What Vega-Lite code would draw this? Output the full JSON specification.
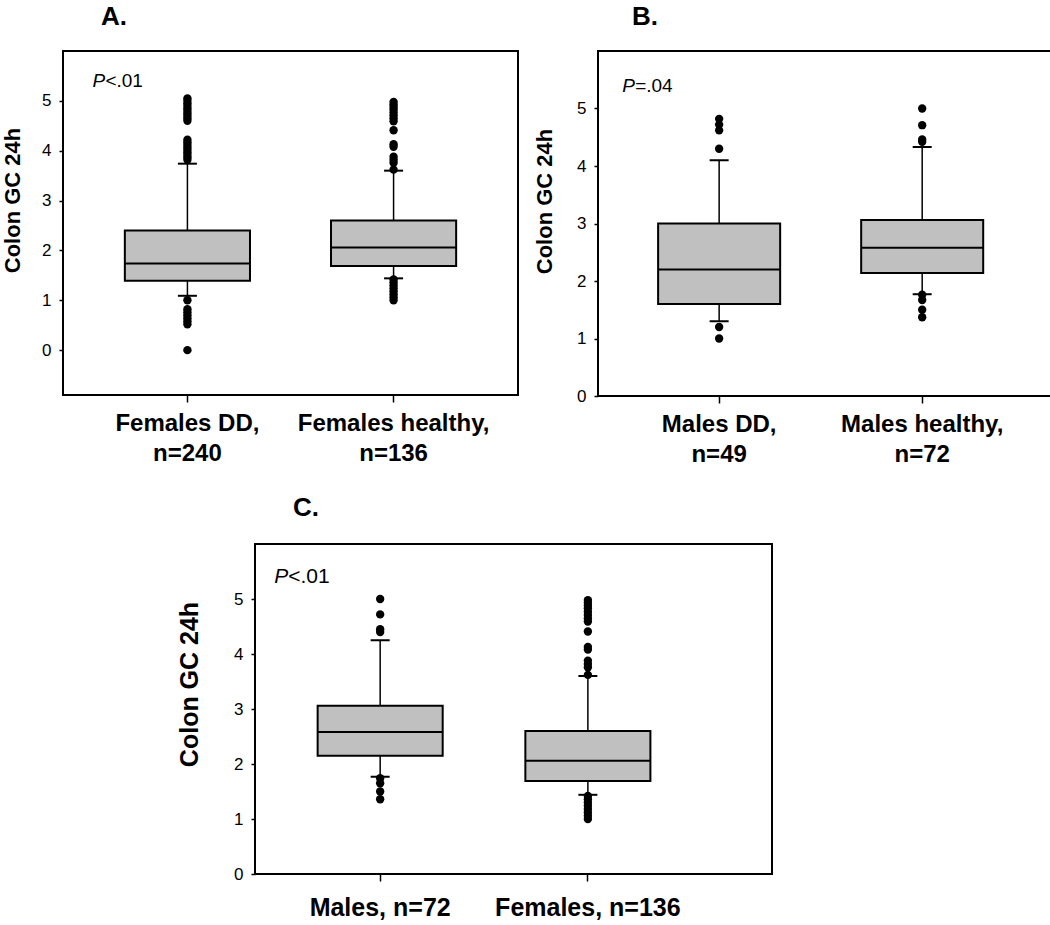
{
  "$schema": "https://vega.github.io/schema/vega-lite/v6.json",
  "padding": {"top": 3, "left": 0, "right": 0, "bottom": 0},
  "background": "white",
  "config": {
    "font": "Liberation Sans",
    "view": {"stroke": "black", "strokeWidth": 2},
    "axis": {"grid": false, "labelColor": "black", "titleColor": "black", "labelFont": "Liberation Sans", "titleFont": "Liberation Sans", "labelLimit": 0},
    "title": {"font": "Liberation Sans", "color": "black"}
  },
  "datasets": {
    "boxes": [
      {"panel": "A", "group": "Females DD, n=240", "lower": 1.09, "q1": 1.39, "median": 1.74, "q3": 2.40, "upper": 3.74},
      {"panel": "A", "group": "Females healthy, n=136", "lower": 1.44, "q1": 1.69, "median": 2.06, "q3": 2.60, "upper": 3.60},
      {"panel": "B", "group": "Males DD, n=49", "lower": 1.30, "q1": 1.60, "median": 2.20, "q3": 3.00, "upper": 4.10},
      {"panel": "B", "group": "Males healthy, n=72", "lower": 1.77, "q1": 2.14, "median": 2.58, "q3": 3.06, "upper": 4.33},
      {"panel": "C", "group": "Males, n=72", "lower": 1.77, "q1": 2.15, "median": 2.58, "q3": 3.06, "upper": 4.25},
      {"panel": "C", "group": "Females, n=136", "lower": 1.44, "q1": 1.69, "median": 2.06, "q3": 2.60, "upper": 3.60}
    ],
    "outliers": [
      {"panel": "A", "group": "Females DD, n=240", "value": 5.05},
      {"panel": "A", "group": "Females DD, n=240", "value": 5.0},
      {"panel": "A", "group": "Females DD, n=240", "value": 4.95},
      {"panel": "A", "group": "Females DD, n=240", "value": 4.9},
      {"panel": "A", "group": "Females DD, n=240", "value": 4.85},
      {"panel": "A", "group": "Females DD, n=240", "value": 4.8},
      {"panel": "A", "group": "Females DD, n=240", "value": 4.75},
      {"panel": "A", "group": "Females DD, n=240", "value": 4.7},
      {"panel": "A", "group": "Females DD, n=240", "value": 4.65},
      {"panel": "A", "group": "Females DD, n=240", "value": 4.6},
      {"panel": "A", "group": "Females DD, n=240", "value": 4.22},
      {"panel": "A", "group": "Females DD, n=240", "value": 4.17},
      {"panel": "A", "group": "Females DD, n=240", "value": 4.12},
      {"panel": "A", "group": "Females DD, n=240", "value": 4.07},
      {"panel": "A", "group": "Females DD, n=240", "value": 4.02},
      {"panel": "A", "group": "Females DD, n=240", "value": 3.97},
      {"panel": "A", "group": "Females DD, n=240", "value": 3.92},
      {"panel": "A", "group": "Females DD, n=240", "value": 3.87},
      {"panel": "A", "group": "Females DD, n=240", "value": 3.82},
      {"panel": "A", "group": "Females DD, n=240", "value": 1.0},
      {"panel": "A", "group": "Females DD, n=240", "value": 0.82},
      {"panel": "A", "group": "Females DD, n=240", "value": 0.76},
      {"panel": "A", "group": "Females DD, n=240", "value": 0.7},
      {"panel": "A", "group": "Females DD, n=240", "value": 0.64},
      {"panel": "A", "group": "Females DD, n=240", "value": 0.58},
      {"panel": "A", "group": "Females DD, n=240", "value": 0.52},
      {"panel": "A", "group": "Females DD, n=240", "value": 0.0},
      {"panel": "A", "group": "Females healthy, n=136", "value": 4.98},
      {"panel": "A", "group": "Females healthy, n=136", "value": 4.93},
      {"panel": "A", "group": "Females healthy, n=136", "value": 4.88},
      {"panel": "A", "group": "Females healthy, n=136", "value": 4.83},
      {"panel": "A", "group": "Females healthy, n=136", "value": 4.77},
      {"panel": "A", "group": "Females healthy, n=136", "value": 4.71},
      {"panel": "A", "group": "Females healthy, n=136", "value": 4.65},
      {"panel": "A", "group": "Females healthy, n=136", "value": 4.59},
      {"panel": "A", "group": "Females healthy, n=136", "value": 4.41},
      {"panel": "A", "group": "Females healthy, n=136", "value": 4.13},
      {"panel": "A", "group": "Females healthy, n=136", "value": 4.08},
      {"panel": "A", "group": "Females healthy, n=136", "value": 3.88},
      {"panel": "A", "group": "Females healthy, n=136", "value": 3.82},
      {"panel": "A", "group": "Females healthy, n=136", "value": 3.76},
      {"panel": "A", "group": "Females healthy, n=136", "value": 3.62},
      {"panel": "A", "group": "Females healthy, n=136", "value": 1.42},
      {"panel": "A", "group": "Females healthy, n=136", "value": 1.36},
      {"panel": "A", "group": "Females healthy, n=136", "value": 1.3},
      {"panel": "A", "group": "Females healthy, n=136", "value": 1.24},
      {"panel": "A", "group": "Females healthy, n=136", "value": 1.18},
      {"panel": "A", "group": "Females healthy, n=136", "value": 1.12},
      {"panel": "A", "group": "Females healthy, n=136", "value": 1.06},
      {"panel": "A", "group": "Females healthy, n=136", "value": 1.0},
      {"panel": "B", "group": "Males DD, n=49", "value": 4.82},
      {"panel": "B", "group": "Males DD, n=49", "value": 4.72},
      {"panel": "B", "group": "Males DD, n=49", "value": 4.62},
      {"panel": "B", "group": "Males DD, n=49", "value": 4.3},
      {"panel": "B", "group": "Males DD, n=49", "value": 1.2},
      {"panel": "B", "group": "Males DD, n=49", "value": 1.0},
      {"panel": "B", "group": "Males healthy, n=72", "value": 5.0},
      {"panel": "B", "group": "Males healthy, n=72", "value": 4.71},
      {"panel": "B", "group": "Males healthy, n=72", "value": 4.46},
      {"panel": "B", "group": "Males healthy, n=72", "value": 4.42},
      {"panel": "B", "group": "Males healthy, n=72", "value": 1.76},
      {"panel": "B", "group": "Males healthy, n=72", "value": 1.67},
      {"panel": "B", "group": "Males healthy, n=72", "value": 1.5},
      {"panel": "B", "group": "Males healthy, n=72", "value": 1.37},
      {"panel": "C", "group": "Males, n=72", "value": 5.0},
      {"panel": "C", "group": "Males, n=72", "value": 4.72},
      {"panel": "C", "group": "Males, n=72", "value": 4.45},
      {"panel": "C", "group": "Males, n=72", "value": 4.4},
      {"panel": "C", "group": "Males, n=72", "value": 1.74},
      {"panel": "C", "group": "Males, n=72", "value": 1.65},
      {"panel": "C", "group": "Males, n=72", "value": 1.5},
      {"panel": "C", "group": "Males, n=72", "value": 1.36},
      {"panel": "C", "group": "Females, n=136", "value": 4.98},
      {"panel": "C", "group": "Females, n=136", "value": 4.93},
      {"panel": "C", "group": "Females, n=136", "value": 4.88},
      {"panel": "C", "group": "Females, n=136", "value": 4.83},
      {"panel": "C", "group": "Females, n=136", "value": 4.77},
      {"panel": "C", "group": "Females, n=136", "value": 4.71},
      {"panel": "C", "group": "Females, n=136", "value": 4.65},
      {"panel": "C", "group": "Females, n=136", "value": 4.59},
      {"panel": "C", "group": "Females, n=136", "value": 4.41},
      {"panel": "C", "group": "Females, n=136", "value": 4.13},
      {"panel": "C", "group": "Females, n=136", "value": 4.08},
      {"panel": "C", "group": "Females, n=136", "value": 3.88},
      {"panel": "C", "group": "Females, n=136", "value": 3.82},
      {"panel": "C", "group": "Females, n=136", "value": 3.76},
      {"panel": "C", "group": "Females, n=136", "value": 3.62},
      {"panel": "C", "group": "Females, n=136", "value": 1.42},
      {"panel": "C", "group": "Females, n=136", "value": 1.36},
      {"panel": "C", "group": "Females, n=136", "value": 1.3},
      {"panel": "C", "group": "Females, n=136", "value": 1.24},
      {"panel": "C", "group": "Females, n=136", "value": 1.18},
      {"panel": "C", "group": "Females, n=136", "value": 1.12},
      {"panel": "C", "group": "Females, n=136", "value": 1.06},
      {"panel": "C", "group": "Females, n=136", "value": 1.0}
    ],
    "notes": [
      {"panel": "A", "group": "Females DD, n=240", "p": "P", "rest": "<.01", "y": 5.4},
      {"panel": "B", "group": "Males DD, n=49", "p": "P", "rest": "=.04", "y": 5.4},
      {"panel": "C", "group": "Males, n=72", "p": "P", "rest": "<.01", "y": 5.4}
    ]
  },
  "spacing": 27,
  "vconcat": [
    {
      "spacing": 13,
      "hconcat": [
        {
          "width": 455,
          "height": 344,
          "title": {"text": "A.", "anchor": "start", "frame": "group", "dx": 38, "offset": 21, "fontSize": 26, "fontWeight": "bold"},
          "encoding": {
            "x": {"field": "group", "type": "nominal", "title": null, "sort": ["Females DD, n=240", "Females healthy, n=136"],
              "scale": {"type": "band", "paddingInner": 0.393, "paddingOuter": 0.3},
              "axis": {"domain": false, "tickSize": 7, "tickColor": "black", "tickWidth": 1.5, "bandPosition": 0.5, "labelAngle": 0, "labelFontSize": 24, "labelFontWeight": "bold", "labelPadding": 9, "labelLineHeight": 30,
                "labelExpr": "[slice(datum.label, 0, indexof(datum.label, ' n=')), slice(datum.label, indexof(datum.label, ' n=') + 1)]"}}
          },
          "layer": [
            {"data": {"name": "boxes"}, "transform": [{"filter": "datum.panel === 'A'"}],
              "mark": {"type": "rule", "color": "black", "strokeWidth": 1.5},
              "encoding": {
                "y": {"field": "lower", "type": "quantitative", "title": "Colon GC 24h", "scale": {"domain": [-0.9, 6], "nice": false, "zero": false},
                  "axis": {"values": [0, 1, 2, 3, 4, 5], "format": "d", "domain": false, "tickSize": 4, "tickColor": "black", "tickWidth": 1.5, "labelFontSize": 17, "labelPadding": 8, "titleFontSize": 22, "titleFontWeight": "bold", "titleX": -51, "titleY": 149, "titleBaseline": "middle"}},
                "y2": {"field": "upper"}}},
            {"data": {"name": "boxes"}, "transform": [{"filter": "datum.panel === 'A'"}],
              "mark": {"type": "bar", "fill": "#c0c0c0", "stroke": "black", "strokeWidth": 2},
              "encoding": {"y": {"field": "q1", "type": "quantitative", "title": "Colon GC 24h"}, "y2": {"field": "q3"}}},
            {"data": {"name": "boxes"}, "transform": [{"filter": "datum.panel === 'A'"}],
              "mark": {"type": "tick", "color": "black", "size": 125, "thickness": 2, "opacity": 1},
              "encoding": {"y": {"field": "median", "type": "quantitative", "title": "Colon GC 24h"}}},
            {"data": {"name": "boxes"}, "transform": [{"filter": "datum.panel === 'A'"}],
              "mark": {"type": "tick", "color": "black", "size": 19, "thickness": 2, "opacity": 1},
              "encoding": {"y": {"field": "lower", "type": "quantitative", "title": "Colon GC 24h"}}},
            {"data": {"name": "boxes"}, "transform": [{"filter": "datum.panel === 'A'"}],
              "mark": {"type": "tick", "color": "black", "size": 19, "thickness": 2, "opacity": 1},
              "encoding": {"y": {"field": "upper", "type": "quantitative", "title": "Colon GC 24h"}}},
            {"data": {"name": "outliers"}, "transform": [{"filter": "datum.panel === 'A'"}],
              "mark": {"type": "point", "filled": true, "color": "black", "size": 70, "opacity": 1},
              "encoding": {"y": {"field": "value", "type": "quantitative", "title": "Colon GC 24h"}}},
            {"data": {"name": "notes"}, "transform": [{"filter": "datum.panel === 'A'"}],
              "mark": {"type": "text", "align": "left", "baseline": "middle", "dx": -95, "fontSize": 19, "fontStyle": "italic", "color": "black"},
              "encoding": {"y": {"field": "y", "type": "quantitative", "title": "Colon GC 24h"}, "text": {"field": "p"}}},
            {"data": {"name": "notes"}, "transform": [{"filter": "datum.panel === 'A'"}],
              "mark": {"type": "text", "align": "left", "baseline": "middle", "dx": -82, "fontSize": 19, "color": "black"},
              "encoding": {"y": {"field": "y", "type": "quantitative", "title": "Colon GC 24h"}, "text": {"field": "rest"}}}
          ]
        },
        {
          "width": 453,
          "height": 345,
          "title": {"text": "B.", "anchor": "start", "frame": "group", "dx": 34, "offset": 21, "fontSize": 26, "fontWeight": "bold"},
          "encoding": {
            "x": {"field": "group", "type": "nominal", "title": null, "sort": ["Males DD, n=49", "Males healthy, n=72"],
              "scale": {"type": "band", "paddingInner": 0.399, "paddingOuter": 0.315, "align": 0.47},
              "axis": {"domain": false, "tickSize": 7, "tickColor": "black", "tickWidth": 1.5, "bandPosition": 0.5, "labelAngle": 0, "labelFontSize": 24, "labelFontWeight": "bold", "labelPadding": 9, "labelLineHeight": 30,
                "labelExpr": "[slice(datum.label, 0, indexof(datum.label, ' n=')), slice(datum.label, indexof(datum.label, ' n=') + 1)]"}}
          },
          "layer": [
            {"data": {"name": "boxes"}, "transform": [{"filter": "datum.panel === 'B'"}],
              "mark": {"type": "rule", "color": "black", "strokeWidth": 1.5},
              "encoding": {
                "y": {"field": "lower", "type": "quantitative", "title": "Colon GC 24h", "scale": {"domain": [0, 6], "nice": false},
                  "axis": {"values": [0, 1, 2, 3, 4, 5], "format": "d", "domain": false, "tickSize": 4, "tickColor": "black", "tickWidth": 1.5, "labelFontSize": 17, "labelPadding": 8, "titleFontSize": 22, "titleFontWeight": "bold", "titleX": -54, "titleY": 150, "titleBaseline": "middle"}},
                "y2": {"field": "upper"}}},
            {"data": {"name": "boxes"}, "transform": [{"filter": "datum.panel === 'B'"}],
              "mark": {"type": "bar", "fill": "#c0c0c0", "stroke": "black", "strokeWidth": 2},
              "encoding": {"y": {"field": "q1", "type": "quantitative", "title": "Colon GC 24h"}, "y2": {"field": "q3"}}},
            {"data": {"name": "boxes"}, "transform": [{"filter": "datum.panel === 'B'"}],
              "mark": {"type": "tick", "color": "black", "size": 122, "thickness": 2, "opacity": 1},
              "encoding": {"y": {"field": "median", "type": "quantitative", "title": "Colon GC 24h"}}},
            {"data": {"name": "boxes"}, "transform": [{"filter": "datum.panel === 'B'"}],
              "mark": {"type": "tick", "color": "black", "size": 19, "thickness": 2, "opacity": 1},
              "encoding": {"y": {"field": "lower", "type": "quantitative", "title": "Colon GC 24h"}}},
            {"data": {"name": "boxes"}, "transform": [{"filter": "datum.panel === 'B'"}],
              "mark": {"type": "tick", "color": "black", "size": 19, "thickness": 2, "opacity": 1},
              "encoding": {"y": {"field": "upper", "type": "quantitative", "title": "Colon GC 24h"}}},
            {"data": {"name": "outliers"}, "transform": [{"filter": "datum.panel === 'B'"}],
              "mark": {"type": "point", "filled": true, "color": "black", "size": 70, "opacity": 1},
              "encoding": {"y": {"field": "value", "type": "quantitative", "title": "Colon GC 24h"}}},
            {"data": {"name": "notes"}, "transform": [{"filter": "datum.panel === 'B'"}],
              "mark": {"type": "text", "align": "left", "baseline": "middle", "dx": -97, "fontSize": 19, "fontStyle": "italic", "color": "black"},
              "encoding": {"y": {"field": "y", "type": "quantitative", "title": "Colon GC 24h"}, "text": {"field": "p"}}},
            {"data": {"name": "notes"}, "transform": [{"filter": "datum.panel === 'B'"}],
              "mark": {"type": "text", "align": "left", "baseline": "middle", "dx": -84, "fontSize": 19, "color": "black"},
              "encoding": {"y": {"field": "y", "type": "quantitative", "title": "Colon GC 24h"}, "text": {"field": "rest"}}}
          ]
        }
      ]
    },
    {
      "spacing": 0,
      "hconcat": [
        {
          "width": 112,
          "height": 20,
          "view": {"stroke": null, "fill": "white"},
          "data": {"values": [{"blank": ""}]},
          "mark": {"type": "text", "text": ""}
        },
        {
          "width": 517,
          "height": 330,
          "title": {"text": "C.", "anchor": "start", "frame": "group", "dx": 38, "offset": 23, "fontSize": 26, "fontWeight": "bold"},
          "encoding": {
            "x": {"field": "group", "type": "nominal", "title": null, "sort": ["Males, n=72", "Females, n=136"],
              "scale": {"type": "band", "paddingInner": 0.398, "paddingOuter": 0.4435, "align": 0.34},
              "axis": {"domain": false, "tickSize": 7, "tickColor": "black", "tickWidth": 1.5, "bandPosition": 0.5, "labelAngle": 0, "labelFontSize": 25, "labelFontWeight": "bold", "labelPadding": 14}}
          },
          "layer": [
            {"data": {"name": "boxes"}, "transform": [{"filter": "datum.panel === 'C'"}],
              "mark": {"type": "rule", "color": "black", "strokeWidth": 1.5},
              "encoding": {
                "y": {"field": "lower", "type": "quantitative", "title": "Colon GC 24h", "scale": {"domain": [0, 6], "nice": false},
                  "axis": {"values": [0, 1, 2, 3, 4, 5], "format": "d", "domain": false, "tickSize": 4, "tickColor": "black", "tickWidth": 1.5, "labelFontSize": 17, "labelPadding": 8, "titleFontSize": 25, "titleFontWeight": "bold", "titleX": -66, "titleY": 140, "titleBaseline": "middle"}},
                "y2": {"field": "upper"}}},
            {"data": {"name": "boxes"}, "transform": [{"filter": "datum.panel === 'C'"}],
              "mark": {"type": "bar", "fill": "#c0c0c0", "stroke": "black", "strokeWidth": 2},
              "encoding": {"y": {"field": "q1", "type": "quantitative", "title": "Colon GC 24h"}, "y2": {"field": "q3"}}},
            {"data": {"name": "boxes"}, "transform": [{"filter": "datum.panel === 'C'"}],
              "mark": {"type": "tick", "color": "black", "size": 125, "thickness": 2, "opacity": 1},
              "encoding": {"y": {"field": "median", "type": "quantitative", "title": "Colon GC 24h"}}},
            {"data": {"name": "boxes"}, "transform": [{"filter": "datum.panel === 'C'"}],
              "mark": {"type": "tick", "color": "black", "size": 19, "thickness": 2, "opacity": 1},
              "encoding": {"y": {"field": "lower", "type": "quantitative", "title": "Colon GC 24h"}}},
            {"data": {"name": "boxes"}, "transform": [{"filter": "datum.panel === 'C'"}],
              "mark": {"type": "tick", "color": "black", "size": 19, "thickness": 2, "opacity": 1},
              "encoding": {"y": {"field": "upper", "type": "quantitative", "title": "Colon GC 24h"}}},
            {"data": {"name": "outliers"}, "transform": [{"filter": "datum.panel === 'C'"}],
              "mark": {"type": "point", "filled": true, "color": "black", "size": 70, "opacity": 1},
              "encoding": {"y": {"field": "value", "type": "quantitative", "title": "Colon GC 24h"}}},
            {"data": {"name": "notes"}, "transform": [{"filter": "datum.panel === 'C'"}],
              "mark": {"type": "text", "align": "left", "baseline": "middle", "dx": -106, "fontSize": 21, "fontStyle": "italic", "color": "black"},
              "encoding": {"y": {"field": "y", "type": "quantitative", "title": "Colon GC 24h"}, "text": {"field": "p"}}},
            {"data": {"name": "notes"}, "transform": [{"filter": "datum.panel === 'C'"}],
              "mark": {"type": "text", "align": "left", "baseline": "middle", "dx": -92, "fontSize": 21, "color": "black"},
              "encoding": {"y": {"field": "y", "type": "quantitative", "title": "Colon GC 24h"}, "text": {"field": "rest"}}}
          ]
        }
      ]
    }
  ]
}
